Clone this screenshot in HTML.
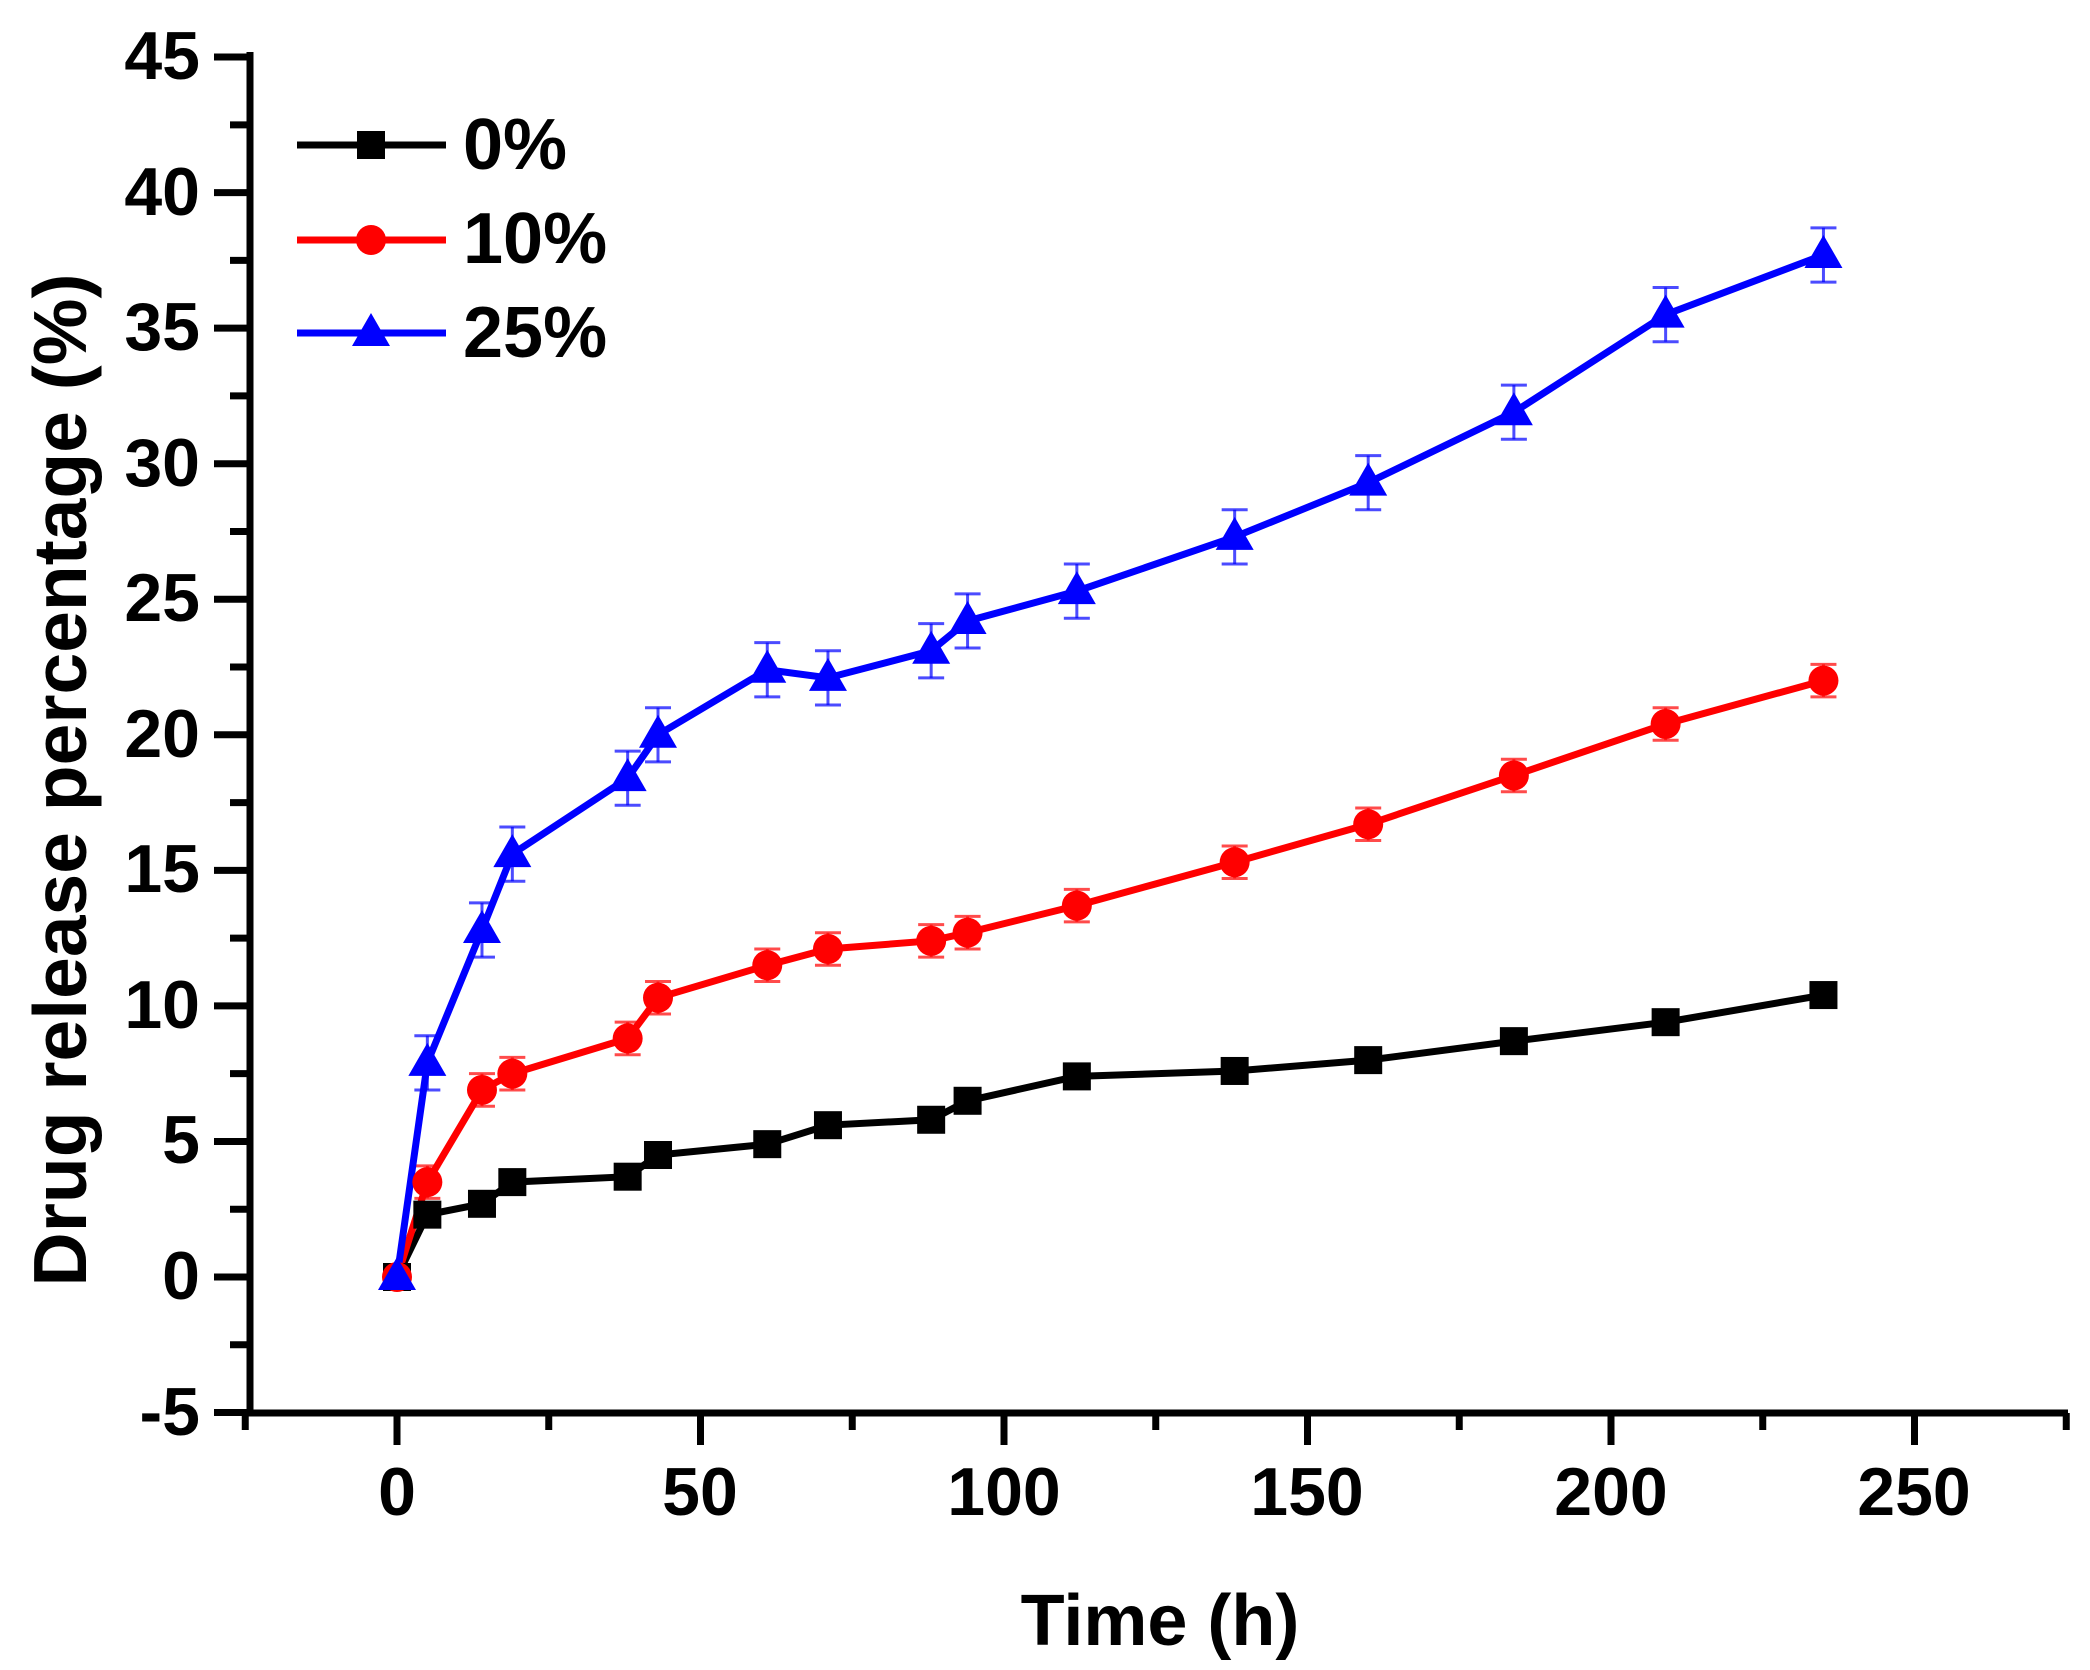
<!DOCTYPE html>
<html><head><meta charset="utf-8"><style>
html,body{margin:0;padding:0;background:#fff}
svg{display:block}
text{font-family:"Liberation Sans",Arial,sans-serif;font-weight:bold;fill:#000}
</style></head><body>
<svg id="s" width="2090" height="1670" viewBox="0 0 2090 1670" xmlns="http://www.w3.org/2000/svg">
<rect width="2090" height="1670" fill="#fff"/>
<g id="axes" stroke="#000" stroke-width="7" fill="none"></g>
<g font-size="68" text-anchor="end">
<text x="200" y="79">45</text><text x="200" y="215">40</text><text x="200" y="350">35</text>
<text x="200" y="486">30</text><text x="200" y="621">25</text><text x="200" y="757">20</text>
<text x="200" y="892">15</text><text x="200" y="1028">10</text><text x="200" y="1163">5</text>
<text x="200" y="1299">0</text><text x="200" y="1435">-5</text>
</g>
<g font-size="68" text-anchor="middle">
<text x="397" y="1515">0</text><text x="700" y="1515">50</text><text x="1004" y="1515">100</text>
<text x="1307" y="1515">150</text><text x="1611" y="1515">200</text><text x="1914" y="1515">250</text>
</g>
<text x="1160" y="1645" font-size="72" text-anchor="middle">Time (h)</text>
<text transform="translate(86,780) rotate(-90)" font-size="75" text-anchor="middle">Drug release percentage (%)</text>
<g id="data"></g>
<g font-size="72">
<text x="463" y="169">0%</text><text x="463" y="263">10%</text><text x="463" y="357">25%</text>
</g>
</svg>
<script>
var X=v=>397+v*6.07, Y=v=>1277-v*27.11;
var ax=document.getElementById('axes'), d=document.getElementById('data');
var h='';
h+='<line x1="250" y1="52" x2="250" y2="1416"/><line x1="247" y1="1413" x2="2068" y2="1413"/>';
for(var v=-5;v<=45;v+=2.5){var big=(v%5==0);h+='<line x1="'+(big?214:230)+'" y1="'+Y(v)+'" x2="250" y2="'+Y(v)+'"/>';}
for(var v=-25;v<=275;v+=25){var big=(v%50==0);h+='<line x1="'+X(v)+'" y1="1413" x2="'+X(v)+'" y2="'+(big?1445:1430)+'"/>';}
ax.innerHTML=h;
var t=[0,5,14,19,38,43,61,71,88,94,112,138,160,184,209,235];
var S=[
{c:'#000',m:'sq',y:[0,2.3,2.7,3.5,3.7,4.5,4.9,5.6,5.8,6.5,7.4,7.6,8.0,8.7,9.4,10.4],e:0.2},
{c:'#ff0000',m:'ci',y:[0,3.5,6.9,7.5,8.8,10.3,11.5,12.1,12.4,12.7,13.7,15.3,16.7,18.5,20.4,22.0],e:0.6},
{c:'#0000ff',m:'tr',y:[0,7.9,12.8,15.6,18.4,20.0,22.4,22.1,23.1,24.2,25.3,27.3,29.3,31.9,35.5,37.7],e:1.0}];
var g='';
S.forEach(function(s){
 s.y.forEach(function(v,i){if(i==0)return;var x=X(t[i]);g+='<line x1="'+x+'" x2="'+x+'" y1="'+Y(v+s.e)+'" y2="'+Y(v-s.e)+'" stroke="'+s.c+'" stroke-width="3" opacity="0.7"/><line x1="'+(x-13)+'" x2="'+(x+13)+'" y1="'+Y(v+s.e)+'" y2="'+Y(v+s.e)+'" stroke="'+s.c+'" stroke-width="3" opacity="0.7"/><line x1="'+(x-13)+'" x2="'+(x+13)+'" y1="'+Y(v-s.e)+'" y2="'+Y(v-s.e)+'" stroke="'+s.c+'" stroke-width="3" opacity="0.7"/>';});
 g+='<polyline fill="none" stroke="'+s.c+'" stroke-width="7" points="'+s.y.map((v,i)=>X(t[i])+','+Y(v)).join(' ')+'"/>';
});
function mk(m,c,x,y){
 if(m=='sq')return '<rect x="'+(x-14)+'" y="'+(y-14)+'" width="28" height="28" fill="'+c+'"/>';
 if(m=='ci')return '<circle cx="'+x+'" cy="'+y+'" r="15" fill="'+c+'"/>';
 return '<polygon points="'+x+','+(y-20)+' '+(x+19)+','+(y+13)+' '+(x-19)+','+(y+13)+'" fill="'+c+'"/>';
}
S.forEach(function(s){s.y.forEach(function(v,i){g+=mk(s.m,s.c,X(t[i]),Y(v));});});
[[145,0],[240,1],[333,2]].forEach(function(p){var s=S[p[1]];g+='<line x1="297" x2="446" y1="'+p[0]+'" y2="'+p[0]+'" stroke="'+s.c+'" stroke-width="7"/>'+mk(s.m,s.c,371,p[0]);});
d.innerHTML=g;
</script>
</body></html>
